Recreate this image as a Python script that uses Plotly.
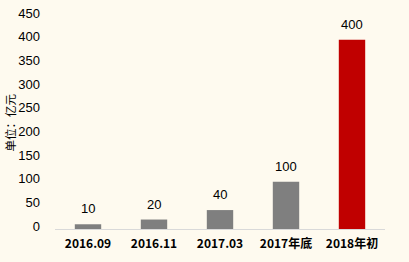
import plotly.graph_objects as go

categories = ["2016.09", "2016.11", "2017.03", "2017年底", "2018年初"]
values = [10, 20, 40, 100, 400]
labels = ["10", "20", "40", "100", "400"]
colors = ["#7F7F7F", "#7F7F7F", "#7F7F7F", "#7F7F7F", "#C00000"]
yticks = [0, 50, 100, 150, 200, 250, 300, 350, 400, 450]

bg = "#FEFAEF"
fig = go.Figure(go.Bar(
    x=categories, y=values, marker=dict(color=colors, line=dict(width=0)),
    width=0.4, hoverinfo="skip",
))
for i, (v, t) in enumerate(zip(values, labels)):
    fig.add_annotation(x=i, y=v, text=t, showarrow=False, yanchor="bottom",
                       yshift=6, font=dict(family="Liberation Sans, Arial", size=13, color="#000000"))
fig.add_annotation(xref="paper", yref="paper", x=0, y=0.5, xanchor="center", yanchor="middle",
                   xshift=-46, text="单位：亿元", textangle=-90, showarrow=False,
                   font=dict(family="Noto Sans CJK SC", size=11.5, color="#000000"))
fig.update_layout(
    width=409, height=262, paper_bgcolor=bg, plot_bgcolor=bg,
    margin=dict(l=55, r=24, t=16, b=33),
    showlegend=False,
    yaxis=dict(range=[0, 450], tickvals=yticks, showgrid=False, zeroline=False, automargin=False,
               showline=False, ticks="", ticklen=0, ticklabelstandoff=14, ticklabelshift=-3,
               tickfont=dict(family="Liberation Sans, Arial", size=13, color="#000000")),
    xaxis=dict(type="category", range=[-0.5, 4.5], showgrid=False, showline=True, automargin=False,
               linecolor="#D9D9D9", linewidth=1, ticks="", ticklabelstandoff=4,
               tickfont=dict(family="Noto Sans CJK SC", size=12, color="#000000", weight="bold")),
)
fig.write_html("out.html")
